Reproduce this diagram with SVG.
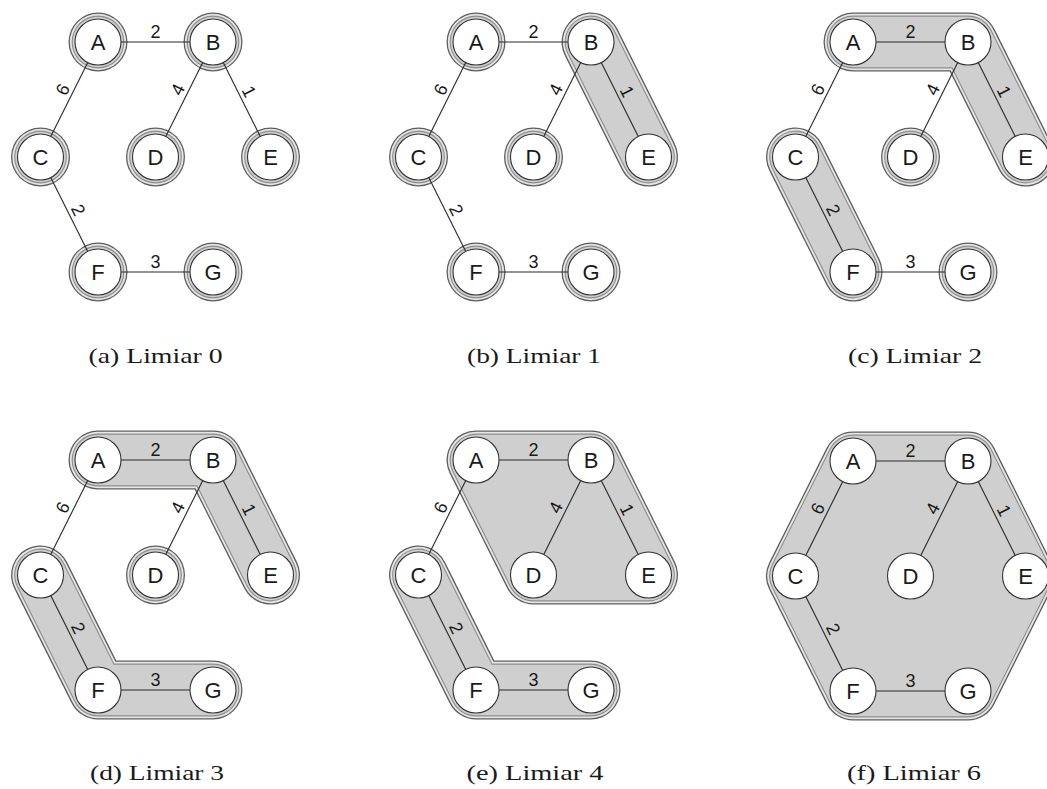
<svg xmlns="http://www.w3.org/2000/svg" xmlns:xlink="http://www.w3.org/1999/xlink" width="1047" height="789" viewBox="0 0 1047 789">
<style>
.r1,.r2,.r3,.r4{stroke-linecap:round;stroke-linejoin:round}
.r1{stroke:#5e5e5e;fill:#5e5e5e;stroke-width:59}
.r2{stroke:#e6e6e6;fill:#e6e6e6;stroke-width:56.4}
.r3{stroke:#8c8c8c;fill:#8c8c8c;stroke-width:52.8}
.r4{stroke:#cfcfcf;fill:#cfcfcf;stroke-width:50.6}
.edges line{stroke:#2a2a2a;stroke-width:1.1}
.node circle{fill:#fff;stroke:#333;stroke-width:1.1}
.node text{font-family:"Liberation Sans",Arial,sans-serif;font-size:22px;text-anchor:middle;fill:#1a1a1a}
.lbl{font-family:"Liberation Sans",Arial,sans-serif;font-size:18px;text-anchor:middle;fill:#1a1a1a}
.cap{font-family:"Liberation Serif","Times New Roman",serif;font-size:21px;text-anchor:middle;fill:#1a1a1a}
</style>
<defs>
  <!-- cluster outlines, local coordinates with A at the origin -->
  <path id="sA" d="M0 0h0.01" fill="none"/>
  <path id="sB" d="M115 0h0.01" fill="none"/>
  <path id="sC" d="M-57.5 115h0.01" fill="none"/>
  <path id="sD" d="M57.5 115h0.01" fill="none"/>
  <path id="sE" d="M172.5 115h0.01" fill="none"/>
  <path id="sF" d="M0 230h0.01" fill="none"/>
  <path id="sG" d="M115 230h0.01" fill="none"/>
  <path id="sBE" d="M115 0L172.5 115" fill="none"/>
  <path id="sCF" d="M-57.5 115L0 230" fill="none"/>
  <path id="sABE" d="M0 0L115 0L172.5 115" fill="none"/>
  <path id="sCFG" d="M-57.5 115L0 230L115 230" fill="none"/>
  <path id="sABED" d="M0 0L115 0L172.5 115L57.5 115Z"/>
  <path id="sAll" d="M0 0L115 0L172.5 115L115 230L0 230L-57.5 115Z"/>

  <g id="clA"><use xlink:href="#sA"/><use xlink:href="#sB"/><use xlink:href="#sC"/><use xlink:href="#sD"/><use xlink:href="#sE"/><use xlink:href="#sF"/><use xlink:href="#sG"/></g>
  <g id="clB"><use xlink:href="#sA"/><use xlink:href="#sBE"/><use xlink:href="#sC"/><use xlink:href="#sD"/><use xlink:href="#sF"/><use xlink:href="#sG"/></g>
  <g id="clC"><use xlink:href="#sABE"/><use xlink:href="#sCF"/><use xlink:href="#sD"/><use xlink:href="#sG"/></g>
  <g id="clD"><use xlink:href="#sABE"/><use xlink:href="#sCFG"/><use xlink:href="#sD"/></g>
  <g id="clE"><use xlink:href="#sABED"/><use xlink:href="#sCFG"/></g>
  <g id="clF"><use xlink:href="#sAll"/></g>
</defs>

<!-- (a) threshold 0 -->
<g id="panel-a" transform="translate(98 42)">
  <g id="a-clusters"><use xlink:href="#clA" class="r1"/><use xlink:href="#clA" class="r2"/><use xlink:href="#clA" class="r3"/><use xlink:href="#clA" class="r4"/></g>
  <g id="a-edges" class="edges">
    <line x1="0" y1="0" x2="115" y2="0"/><line x1="0" y1="0" x2="-57.5" y2="115"/><line x1="115" y1="0" x2="57.5" y2="115"/>
    <line x1="115" y1="0" x2="172.5" y2="115"/><line x1="-57.5" y1="115" x2="0" y2="230"/><line x1="0" y1="230" x2="115" y2="230"/>
    <text class="lbl" x="57.5" y="-4">2</text>
    <text class="lbl" transform="translate(-28.75 57.5) rotate(-63.43)" x="6" y="-4">6</text>
    <text class="lbl" transform="translate(86.25 57.5) rotate(-63.43)" x="6" y="-4">4</text>
    <text class="lbl" transform="translate(143.75 57.5) rotate(63.43)" x="-4" y="-4">1</text>
    <text class="lbl" transform="translate(-28.75 172.5) rotate(63.43)" x="0" y="-4">2</text>
    <text class="lbl" x="57.5" y="226">3</text>
  </g>
  <g id="a-A" class="node"><circle cx="0" cy="0" r="23"/><text x="0" y="8">A</text></g>
  <g id="a-B" class="node"><circle cx="115" cy="0" r="23"/><text x="115" y="8">B</text></g>
  <g id="a-C" class="node"><circle cx="-57.5" cy="115" r="23"/><text x="-57.5" y="123">C</text></g>
  <g id="a-D" class="node"><circle cx="57.5" cy="115" r="23"/><text x="57.5" y="123">D</text></g>
  <g id="a-E" class="node"><circle cx="172.5" cy="115" r="23"/><text x="172.5" y="123">E</text></g>
  <g id="a-F" class="node"><circle cx="0" cy="230" r="23"/><text x="0" y="238">F</text></g>
  <g id="a-G" class="node"><circle cx="115" cy="230" r="23"/><text x="115" y="238">G</text></g>
  <text class="cap" x="57.5" y="321" textLength="134" lengthAdjust="spacingAndGlyphs">(a) Limiar 0</text>
</g>

<!-- (b) threshold 1 -->
<g id="panel-b" transform="translate(476 42)">
  <g id="b-clusters"><use xlink:href="#clB" class="r1"/><use xlink:href="#clB" class="r2"/><use xlink:href="#clB" class="r3"/><use xlink:href="#clB" class="r4"/></g>
  <g id="b-edges" class="edges">
    <line x1="0" y1="0" x2="115" y2="0"/><line x1="0" y1="0" x2="-57.5" y2="115"/><line x1="115" y1="0" x2="57.5" y2="115"/>
    <line x1="115" y1="0" x2="172.5" y2="115"/><line x1="-57.5" y1="115" x2="0" y2="230"/><line x1="0" y1="230" x2="115" y2="230"/>
    <text class="lbl" x="57.5" y="-4">2</text>
    <text class="lbl" transform="translate(-28.75 57.5) rotate(-63.43)" x="6" y="-4">6</text>
    <text class="lbl" transform="translate(86.25 57.5) rotate(-63.43)" x="6" y="-4">4</text>
    <text class="lbl" transform="translate(143.75 57.5) rotate(63.43)" x="-4" y="-4">1</text>
    <text class="lbl" transform="translate(-28.75 172.5) rotate(63.43)" x="0" y="-4">2</text>
    <text class="lbl" x="57.5" y="226">3</text>
  </g>
  <g id="b-A" class="node"><circle cx="0" cy="0" r="23"/><text x="0" y="8">A</text></g>
  <g id="b-B" class="node"><circle cx="115" cy="0" r="23"/><text x="115" y="8">B</text></g>
  <g id="b-C" class="node"><circle cx="-57.5" cy="115" r="23"/><text x="-57.5" y="123">C</text></g>
  <g id="b-D" class="node"><circle cx="57.5" cy="115" r="23"/><text x="57.5" y="123">D</text></g>
  <g id="b-E" class="node"><circle cx="172.5" cy="115" r="23"/><text x="172.5" y="123">E</text></g>
  <g id="b-F" class="node"><circle cx="0" cy="230" r="23"/><text x="0" y="238">F</text></g>
  <g id="b-G" class="node"><circle cx="115" cy="230" r="23"/><text x="115" y="238">G</text></g>
  <text class="cap" x="58" y="321" textLength="134" lengthAdjust="spacingAndGlyphs">(b) Limiar 1</text>
</g>

<!-- (c) threshold 2 -->
<g id="panel-c" transform="translate(853 42)">
  <g id="c-clusters"><use xlink:href="#clC" class="r1"/><use xlink:href="#clC" class="r2"/><use xlink:href="#clC" class="r3"/><use xlink:href="#clC" class="r4"/></g>
  <g id="c-edges" class="edges">
    <line x1="0" y1="0" x2="115" y2="0"/><line x1="0" y1="0" x2="-57.5" y2="115"/><line x1="115" y1="0" x2="57.5" y2="115"/>
    <line x1="115" y1="0" x2="172.5" y2="115"/><line x1="-57.5" y1="115" x2="0" y2="230"/><line x1="0" y1="230" x2="115" y2="230"/>
    <text class="lbl" x="57.5" y="-4">2</text>
    <text class="lbl" transform="translate(-28.75 57.5) rotate(-63.43)" x="6" y="-4">6</text>
    <text class="lbl" transform="translate(86.25 57.5) rotate(-63.43)" x="6" y="-4">4</text>
    <text class="lbl" transform="translate(143.75 57.5) rotate(63.43)" x="-4" y="-4">1</text>
    <text class="lbl" transform="translate(-28.75 172.5) rotate(63.43)" x="0" y="-4">2</text>
    <text class="lbl" x="57.5" y="226">3</text>
  </g>
  <g id="c-A" class="node"><circle cx="0" cy="0" r="23"/><text x="0" y="8">A</text></g>
  <g id="c-B" class="node"><circle cx="115" cy="0" r="23"/><text x="115" y="8">B</text></g>
  <g id="c-C" class="node"><circle cx="-57.5" cy="115" r="23"/><text x="-57.5" y="123">C</text></g>
  <g id="c-D" class="node"><circle cx="57.5" cy="115" r="23"/><text x="57.5" y="123">D</text></g>
  <g id="c-E" class="node"><circle cx="172.5" cy="115" r="23"/><text x="172.5" y="123">E</text></g>
  <g id="c-F" class="node"><circle cx="0" cy="230" r="23"/><text x="0" y="238">F</text></g>
  <g id="c-G" class="node"><circle cx="115" cy="230" r="23"/><text x="115" y="238">G</text></g>
  <text class="cap" x="62" y="321" textLength="134" lengthAdjust="spacingAndGlyphs">(c) Limiar 2</text>
</g>

<!-- (d) threshold 3 -->
<g id="panel-d" transform="translate(98 460)">
  <g id="d-clusters"><use xlink:href="#clD" class="r1"/><use xlink:href="#clD" class="r2"/><use xlink:href="#clD" class="r3"/><use xlink:href="#clD" class="r4"/></g>
  <g id="d-edges" class="edges">
    <line x1="0" y1="0" x2="115" y2="0"/><line x1="0" y1="0" x2="-57.5" y2="115"/><line x1="115" y1="0" x2="57.5" y2="115"/>
    <line x1="115" y1="0" x2="172.5" y2="115"/><line x1="-57.5" y1="115" x2="0" y2="230"/><line x1="0" y1="230" x2="115" y2="230"/>
    <text class="lbl" x="57.5" y="-4">2</text>
    <text class="lbl" transform="translate(-28.75 57.5) rotate(-63.43)" x="6" y="-4">6</text>
    <text class="lbl" transform="translate(86.25 57.5) rotate(-63.43)" x="6" y="-4">4</text>
    <text class="lbl" transform="translate(143.75 57.5) rotate(63.43)" x="-4" y="-4">1</text>
    <text class="lbl" transform="translate(-28.75 172.5) rotate(63.43)" x="0" y="-4">2</text>
    <text class="lbl" x="57.5" y="226">3</text>
  </g>
  <g id="d-A" class="node"><circle cx="0" cy="0" r="23"/><text x="0" y="8">A</text></g>
  <g id="d-B" class="node"><circle cx="115" cy="0" r="23"/><text x="115" y="8">B</text></g>
  <g id="d-C" class="node"><circle cx="-57.5" cy="115" r="23"/><text x="-57.5" y="123">C</text></g>
  <g id="d-D" class="node"><circle cx="57.5" cy="115" r="23"/><text x="57.5" y="123">D</text></g>
  <g id="d-E" class="node"><circle cx="172.5" cy="115" r="23"/><text x="172.5" y="123">E</text></g>
  <g id="d-F" class="node"><circle cx="0" cy="230" r="23"/><text x="0" y="238">F</text></g>
  <g id="d-G" class="node"><circle cx="115" cy="230" r="23"/><text x="115" y="238">G</text></g>
  <text class="cap" x="59" y="320" textLength="134" lengthAdjust="spacingAndGlyphs">(d) Limiar 3</text>
</g>

<!-- (e) threshold 4 -->
<g id="panel-e" transform="translate(476 460)">
  <g id="e-clusters"><use xlink:href="#clE" class="r1"/><use xlink:href="#clE" class="r2"/><use xlink:href="#clE" class="r3"/><use xlink:href="#clE" class="r4"/></g>
  <g id="e-edges" class="edges">
    <line x1="0" y1="0" x2="115" y2="0"/><line x1="0" y1="0" x2="-57.5" y2="115"/><line x1="115" y1="0" x2="57.5" y2="115"/>
    <line x1="115" y1="0" x2="172.5" y2="115"/><line x1="-57.5" y1="115" x2="0" y2="230"/><line x1="0" y1="230" x2="115" y2="230"/>
    <text class="lbl" x="57.5" y="-4">2</text>
    <text class="lbl" transform="translate(-28.75 57.5) rotate(-63.43)" x="6" y="-4">6</text>
    <text class="lbl" transform="translate(86.25 57.5) rotate(-63.43)" x="6" y="-4">4</text>
    <text class="lbl" transform="translate(143.75 57.5) rotate(63.43)" x="-4" y="-4">1</text>
    <text class="lbl" transform="translate(-28.75 172.5) rotate(63.43)" x="0" y="-4">2</text>
    <text class="lbl" x="57.5" y="226">3</text>
  </g>
  <g id="e-A" class="node"><circle cx="0" cy="0" r="23"/><text x="0" y="8">A</text></g>
  <g id="e-B" class="node"><circle cx="115" cy="0" r="23"/><text x="115" y="8">B</text></g>
  <g id="e-C" class="node"><circle cx="-57.5" cy="115" r="23"/><text x="-57.5" y="123">C</text></g>
  <g id="e-D" class="node"><circle cx="57.5" cy="115" r="23"/><text x="57.5" y="123">D</text></g>
  <g id="e-E" class="node"><circle cx="172.5" cy="115" r="23"/><text x="172.5" y="123">E</text></g>
  <g id="e-F" class="node"><circle cx="0" cy="230" r="23"/><text x="0" y="238">F</text></g>
  <g id="e-G" class="node"><circle cx="115" cy="230" r="23"/><text x="115" y="238">G</text></g>
  <text class="cap" x="59" y="320" textLength="137" lengthAdjust="spacingAndGlyphs">(e) Limiar 4</text>
</g>

<!-- (f) threshold 6 -->
<g id="panel-f" transform="translate(853 461)">
  <g id="f-clusters"><use xlink:href="#clF" class="r1"/><use xlink:href="#clF" class="r2"/><use xlink:href="#clF" class="r3"/><use xlink:href="#clF" class="r4"/></g>
  <g id="f-edges" class="edges">
    <line x1="0" y1="0" x2="115" y2="0"/><line x1="0" y1="0" x2="-57.5" y2="115"/><line x1="115" y1="0" x2="57.5" y2="115"/>
    <line x1="115" y1="0" x2="172.5" y2="115"/><line x1="-57.5" y1="115" x2="0" y2="230"/><line x1="0" y1="230" x2="115" y2="230"/>
    <text class="lbl" x="57.5" y="-4">2</text>
    <text class="lbl" transform="translate(-28.75 57.5) rotate(-63.43)" x="6" y="-4">6</text>
    <text class="lbl" transform="translate(86.25 57.5) rotate(-63.43)" x="6" y="-4">4</text>
    <text class="lbl" transform="translate(143.75 57.5) rotate(63.43)" x="-4" y="-4">1</text>
    <text class="lbl" transform="translate(-28.75 172.5) rotate(63.43)" x="0" y="-4">2</text>
    <text class="lbl" x="57.5" y="226">3</text>
  </g>
  <g id="f-A" class="node"><circle cx="0" cy="0" r="23"/><text x="0" y="8">A</text></g>
  <g id="f-B" class="node"><circle cx="115" cy="0" r="23"/><text x="115" y="8">B</text></g>
  <g id="f-C" class="node"><circle cx="-57.5" cy="115" r="23"/><text x="-57.5" y="123">C</text></g>
  <g id="f-D" class="node"><circle cx="57.5" cy="115" r="23"/><text x="57.5" y="123">D</text></g>
  <g id="f-E" class="node"><circle cx="172.5" cy="115" r="23"/><text x="172.5" y="123">E</text></g>
  <g id="f-F" class="node"><circle cx="0" cy="230" r="23"/><text x="0" y="238">F</text></g>
  <g id="f-G" class="node"><circle cx="115" cy="230" r="23"/><text x="115" y="238">G</text></g>
  <text class="cap" x="61" y="319" textLength="134" lengthAdjust="spacingAndGlyphs">(f) Limiar 6</text>
</g>
</svg>
